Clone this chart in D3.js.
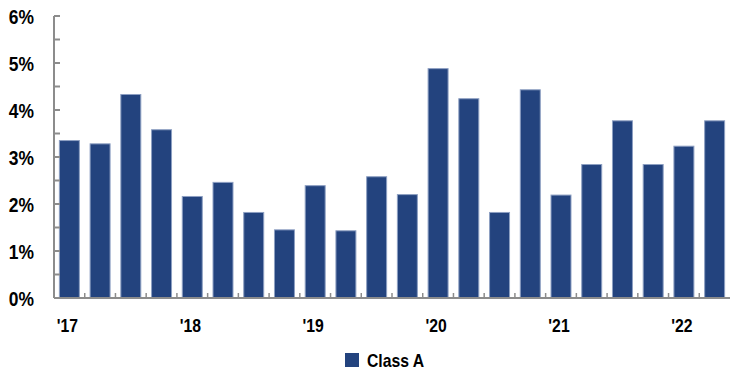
<!DOCTYPE html>
<html>
<head>
<meta charset="utf-8">
<script src="https://cdn.jsdelivr.net/npm/d3@7"></script>
<style>
  body { margin: 0; background: #fff; }
  text { font-family: "Liberation Sans", Arial, sans-serif; font-weight: bold; fill: #000; }
</style>
</head>
<body>
<div id="chart"></div>
<script>
// quarterly, Q1 2017 .. Q2 2022
var quarters = ["Q1 17","Q2 17","Q3 17","Q4 17","Q1 18","Q2 18","Q3 18","Q4 18",
  "Q1 19","Q2 19","Q3 19","Q4 19","Q1 20","Q2 20","Q3 20","Q4 20",
  "Q1 21","Q2 21","Q3 21","Q4 21","Q1 22","Q2 22"];
var classA = [3.35, 3.28, 4.33, 3.58, 2.16, 2.46, 1.82, 1.45, 2.39, 1.43, 2.58, 2.2,
  4.88, 4.24, 1.82, 4.43, 2.19, 2.84, 3.77, 2.84, 3.23, 3.77];
var yearLabels = {"Q1 17": "'17", "Q1 18": "'18", "Q1 19": "'19", "Q1 20": "'20", "Q1 21": "'21", "Q1 22": "'22"};
var yTicks = [0, 1, 2, 3, 4, 5, 6];
var seriesName = "Class A";

var svgWidth = 730, svgHeight = 372;
var margin = { top: 16, right: 0, bottom: 74, left: 54 };
var width = svgWidth - margin.left - margin.right;
var height = svgHeight - margin.top - margin.bottom;
var squeeze = 0.83; // text in the original is condensed

var svg = d3.select("#chart").append("svg")
  .attr("width", svgWidth)
  .attr("height", svgHeight);

var chartGroup = svg.append("g")
  .attr("transform", `translate(${margin.left}, ${margin.top})`);

var xScale = d3.scaleBand()
  .domain(quarters)
  .range([0, width])
  .paddingInner(0.35)
  .paddingOuter(0.175);

var yScale = d3.scaleLinear()
  .domain([0, 6])
  .range([height, 0]);

// bars
chartGroup.selectAll("rect.bar")
  .data(classA)
  .enter()
  .append("rect")
  .attr("class", "bar")
  .attr("x", (d, i) => xScale(quarters[i]))
  .attr("y", d => yScale(d))
  .attr("width", xScale.bandwidth())
  .attr("height", d => height - yScale(d))
  .attr("fill", "#23437e")
  .attr("stroke", "#8d9fc2")
  .attr("stroke-width", 1);

// y axis: major + minor ticks pointing right
var minor = d3.range(0, 6.01, 0.5);
var yAxis = chartGroup.append("g");
yAxis.append("line")
  .attr("x1", 0).attr("x2", 0)
  .attr("y1", yScale(6)).attr("y2", height)
  .attr("stroke", "#8c8c8c").attr("stroke-width", 2);
yAxis.selectAll("line.tick")
  .data(minor)
  .enter()
  .append("line")
  .attr("class", "tick")
  .attr("x1", 0).attr("x2", 6)
  .attr("y1", d => yScale(d)).attr("y2", d => yScale(d))
  .attr("stroke", "#8c8c8c").attr("stroke-width", 2);
yAxis.selectAll("text")
  .data(yTicks)
  .enter()
  .append("text")
  .attr("transform", d => `translate(-20, ${yScale(d)}) scale(${squeeze}, 1)`)
  .attr("dy", "0.36em")
  .attr("text-anchor", "end")
  .attr("font-size", 21)
  .text(d => d + "%");

// x axis: ticks at category boundaries, pointing up
var step = xScale.step();
var xAxis = chartGroup.append("g").attr("transform", `translate(0, ${height})`);
xAxis.append("line")
  .attr("x1", 0).attr("x2", width)
  .attr("y1", 0).attr("y2", 0)
  .attr("stroke", "#8c8c8c").attr("stroke-width", 2);
xAxis.selectAll("line.tick")
  .data(quarters)
  .enter()
  .append("line")
  .attr("class", "tick")
  .attr("x1", d => xScale(d) - step * xScale.paddingInner() / 2)
  .attr("x2", d => xScale(d) - step * xScale.paddingInner() / 2)
  .attr("y1", 0).attr("y2", -5)
  .attr("stroke", "#8c8c8c").attr("stroke-width", 1.5);
xAxis.selectAll("text")
  .data(quarters.filter(q => yearLabels[q]))
  .enter()
  .append("text")
  .attr("transform", d => `translate(${xScale(d) + xScale.bandwidth() / 2 - 2}, 34) scale(${squeeze}, 1)`)
  .attr("text-anchor", "middle")
  .attr("font-size", 19)
  .text(d => yearLabels[d]);

// legend
var legend = svg.append("g").attr("transform", "translate(345, 353)");
legend.append("rect")
  .attr("x", 0).attr("y", 0)
  .attr("width", 14).attr("height", 14)
  .attr("fill", "#23437e");
legend.append("text")
  .attr("transform", `translate(22, 14) scale(${squeeze}, 1)`)
  .attr("font-size", 19)
  .text(seriesName);
</script>
</body>
</html>
